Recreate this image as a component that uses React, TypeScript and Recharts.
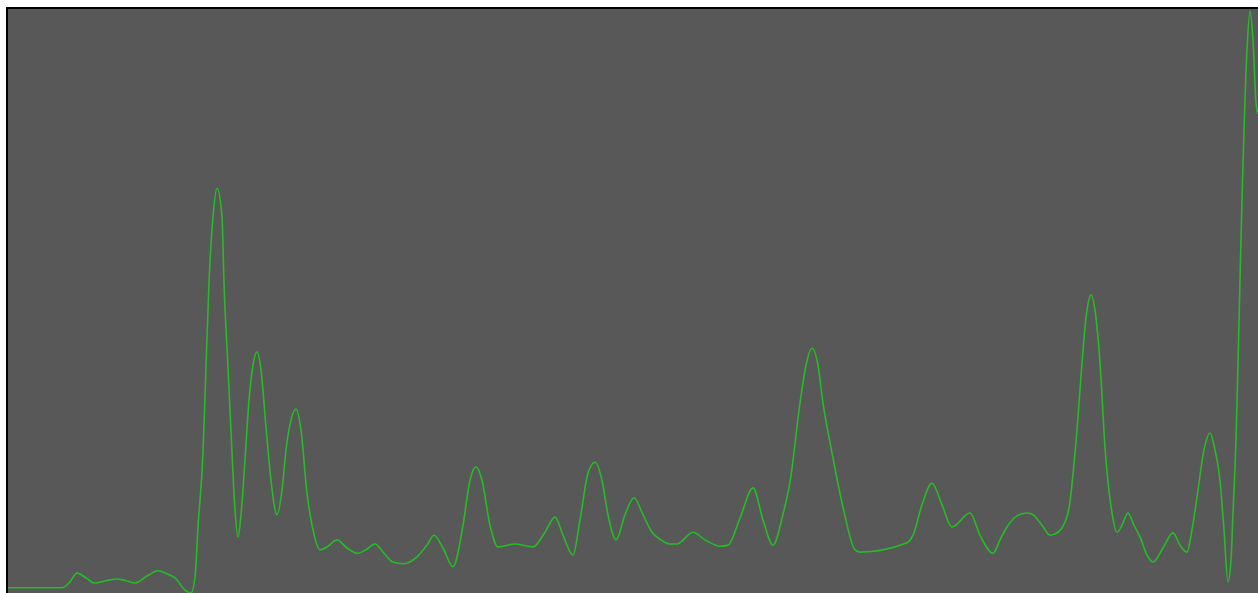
import { LineChart, Line, XAxis, YAxis } from 'recharts'

// spectrum channel positions and measured intensity (0..1000)
const channels = [
  0, 32, 54, 62, 69, 78, 87, 98, 109, 118, 127, 139, 150, 159, 167, 177, 183, 187, 190, 195,
  198, 201, 205, 209, 214, 216, 220, 224, 227, 230, 233, 237, 241, 245, 249, 253, 258, 263, 269, 274,
  278, 283, 288, 293, 299, 305, 312, 320, 329, 339, 349, 358, 367, 376, 385, 395, 409, 419, 426, 435,
  445, 455, 462, 468, 474, 482, 490, 507, 525, 537, 547, 555, 565, 572, 580, 587, 594, 600, 608, 617,
  626, 635, 644, 653, 662, 669, 685, 697, 712, 720, 732, 745, 755, 765, 775, 782, 792, 798, 804,
  810, 815, 824, 835, 847, 852, 899, 905, 914, 924, 934, 944, 962, 972, 985, 992, 999, 1009, 1019, 1025,
  1034, 1042, 1050, 1060, 1069, 1074, 1078, 1083, 1088, 1092, 1097, 1104, 1109, 1114, 1120, 1126, 1132, 1139, 1145, 1155,
  1165, 1172, 1179, 1184, 1189, 1196, 1202, 1207, 1212, 1216, 1220, 1223, 1225, 1228, 1230, 1232, 1234, 1236, 1239, 1242,
  1245, 1248, 1250,
]

const intensity = [
  9, 9, 9, 19, 34, 26, 17, 21, 24, 21, 17, 29, 38, 33, 26, 5, 0, 27, 113, 240,
  387, 531, 644, 693, 644, 531, 387, 240, 142, 96, 134, 228, 330, 390, 413, 382, 284, 193, 134, 176,
  245, 296, 315, 279, 171, 108, 74, 80, 91, 77, 68, 74, 84, 68, 53, 50, 62, 82, 99, 77,
  45, 116, 193, 216, 193, 116, 79, 84, 79, 104, 130, 99, 65, 125, 205, 224, 193, 134, 91, 134,
  163, 134, 104, 91, 84, 84, 104, 91, 80, 82, 128, 180, 125, 82, 135, 190, 325, 390, 419,
  390, 325, 240, 147, 74, 70, 86, 99, 151, 188, 151, 113, 137, 99, 68, 91, 113, 132, 137, 134,
  116, 99, 104, 137, 279, 394, 471, 510, 471, 394, 250, 137, 104, 116, 137, 116, 96, 65, 53, 77,
  103, 82, 70, 108, 164, 245, 274, 245, 193, 108, 19, 56, 137, 262, 394, 536, 673, 793, 930, 996,
  947, 840, 820,
]

const data = channels.map((c, i) => ({ channel: c, value: intensity[i] }))

export default function App() {
  return (
    <div
      style={{
        position: 'fixed',
        left: 6,
        top: 7,
        borderLeft: '2px solid #000',
        borderTop: '2px solid #000',
        background: '#585858',
        width: 1250,
        height: 584,
      }}
    >
      <LineChart width={1250} height={584} data={data} margin={{ top: 0, right: 0, bottom: 0, left: 0 }}>
        <XAxis dataKey="channel" type="number" domain={[0, 1250]} hide />
        <YAxis type="number" domain={[0, 1000]} hide allowDataOverflow />
        <Line
          type="monotone"
          dataKey="value"
          stroke="#22bf22"
          strokeWidth={1.6}
          dot={false}
          isAnimationActive={false}
        />
      </LineChart>
    </div>
  )
}
